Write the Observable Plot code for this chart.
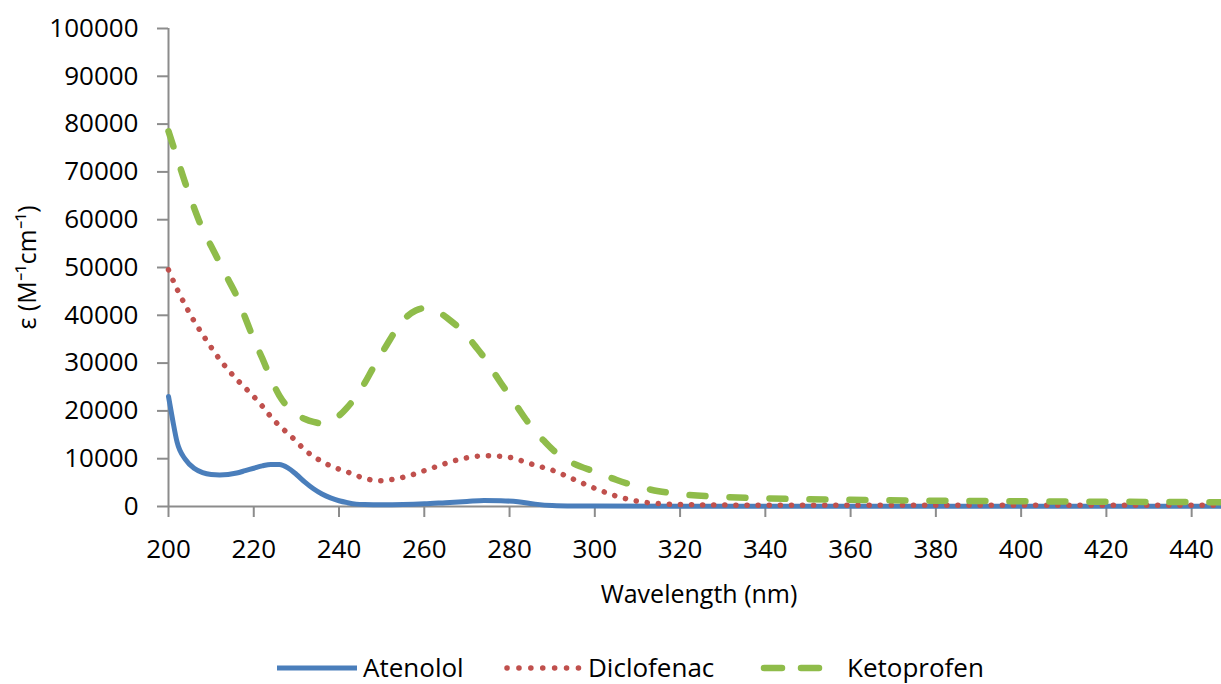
<!DOCTYPE html>
<html>
<head>
<meta charset="utf-8">
<script src="https://cdn.jsdelivr.net/npm/d3@7"></script>
<script src="https://cdn.jsdelivr.net/npm/@observablehq/plot@0.6"></script>
<style>
  html, body { margin: 0; padding: 0; background: #fff; }
  body { font-family: "Open Sans", sans-serif; width: 1221px; height: 684px; overflow: hidden; position: relative; }
  #chart svg { display: block; }
  #legend { position: absolute; left: 0; top: 630px; width: 1221px; height: 54px; }
  .item { position: absolute; top: 0; height: 54px; }
  .lbl { position: absolute; top: 22px; font-size: 26px; line-height: 30px; color: #000; white-space: nowrap; }
</style>
</head>
<body>
<div id="chart"></div>
<div id="legend"></div>
<script>
// ---- data ----
const seriesNames = ["Atenolol", "Diclofenac", "Ketoprofen"];
const seriesColors = ["#4a7ebb", "#c0504d", "#8fbc4a"];

const atenololNm  = [200,201,202,204,206,208,210,212,214,216,218,220,222,224,226,228,230,232,234,236,238,240,242,244,246,250,255,260,265,270,274,278,282,286,290,295,300,320,350,400,447];
const atenololEps = [23000,18000,13500,9800,8000,7100,6700,6600,6700,7000,7500,8000,8500,8800,8800,8100,6700,5100,3700,2600,1800,1200,800,500,400,350,400,550,800,1050,1250,1200,1000,500,200,100,80,60,60,60,60];

const diclofenacNm  = [200,202,204,206,208,210,212,214,216,218,220,222,224,226,228,230,232,234,236,238,240,242,244,246,248,250,252,254,257,260,263,266,269,272,275,278,281,284,287,290,295,300,305,310,315,320,330,350,400,447];
const diclofenacEps = [49500,45500,42000,38800,36000,33300,30800,28600,26600,24800,23000,21000,18800,16900,15300,13600,11800,10500,9400,8500,7800,7200,6500,5900,5500,5400,5600,5900,6600,7500,8400,9300,10000,10500,10600,10500,10100,9200,8400,7600,5700,3800,2200,1100,600,400,300,250,250,250];

const ketoprofenNm  = [200,202,204,206,208,210,212,214,216,218,220,222,224,226,228,230,232,234,236,238,240,242,244,246,248,250,252,254,256,258,260,262,264,266,268,270,272,274,276,278,280,282,284,286,288,290,292,295,300,305,310,315,320,330,340,360,380,400,420,447];
const ketoprofenEps = [78500,73000,67500,62500,58000,54500,51000,47500,44000,39500,35000,31000,26800,23200,20800,19300,18300,17700,17400,17900,19000,20800,23000,25800,29000,32000,35000,37800,39800,41000,41500,41200,40300,39000,37500,35700,33500,31200,28500,25800,23200,20600,18000,15700,13800,12000,10500,9000,7300,5600,4200,3200,2600,2000,1700,1400,1200,1100,1000,900];

const xTicks = [200,220,240,260,280,300,320,340,360,380,400,420,440];
const yTicks = [0,10000,20000,30000,40000,50000,60000,70000,80000,90000,100000];
const xTitle = "Wavelength (nm)";
const yTitle = "ε (M\u207B\u00B9cm\u207B\u00B9)";

// ---- build tables ----
const toRows = (name, nm, eps) => nm.map((x, i) => ({series: name, nm: x, eps: eps[i]}));
const atenolol = toRows(seriesNames[0], atenololNm, atenololEps);
const diclofenac = toRows(seriesNames[1], diclofenacNm, diclofenacEps);
const ketoprofen = toRows(seriesNames[2], ketoprofenNm, ketoprofenEps);

const axisGray = "#8c8c8c";
const font = "Open Sans";

const chart = Plot.plot({
  width: 1221,
  height: 630,
  marginLeft: 168,
  marginRight: 0,
  marginTop: 28,
  marginBottom: 124,
  style: {fontFamily: font, background: "#fff", overflow: "visible"},
  x: {domain: [200, 447], label: null},
  y: {domain: [0, 100000], label: null},
  marks: [
    Plot.axisY({ticks: yTicks, tickSize: 11, tickPadding: 19, stroke: axisGray, strokeWidth: 2, fill: "#000",
                fontSize: 26, tickFormat: d3.format("d"), label: null}),
    Plot.axisX({ticks: xTicks, tickSize: 11, tickPadding: 22, stroke: axisGray, strokeWidth: 2, fill: "#000",
                fontSize: 26, tickFormat: d3.format("d"), label: null}),
    Plot.ruleX([200], {stroke: axisGray, strokeWidth: 2}),
    Plot.ruleY([0], {stroke: axisGray, strokeWidth: 2}),
    Plot.line(atenolol, {x: "nm", y: "eps", stroke: seriesColors[0], strokeWidth: 5, curve: "monotone-x"}),
    Plot.line(diclofenac, {x: "nm", y: "eps", stroke: seriesColors[1], strokeWidth: 5.5, curve: "monotone-x",
                           strokeDasharray: "0.1 11", strokeLinecap: "round"}),
    Plot.line(ketoprofen, {x: "nm", y: "eps", stroke: seriesColors[2], strokeWidth: 6.5, curve: "monotone-x",
                           strokeDasharray: "16 24", strokeLinecap: "round"}),
    Plot.text([yTitle], {text: d => d, frameAnchor: "left", textAnchor: "middle", dx: -141, rotate: -90, fontSize: 25, fill: "#000"}),
    Plot.text([xTitle], {text: d => d, frameAnchor: "bottom", textAnchor: "middle", dy: 96, dx: 4, fontSize: 25, fill: "#000"})
  ]
});
document.getElementById("chart").appendChild(chart);

// ---- legend (HTML below the SVG) ----
const legend = document.getElementById("legend");
const swatchX = [277, 505, 762];
const labelX = [363, 588, 847];
const swatchW = [80, 74, 60];
const ns = "http://www.w3.org/2000/svg";
seriesNames.forEach((name, i) => {
  const svg = document.createElementNS(ns, "svg");
  svg.setAttribute("width", swatchW[i] + 6);
  svg.setAttribute("height", 54);
  svg.setAttribute("class", "item");
  svg.style.left = (swatchX[i] - 3) + "px";
  const line = document.createElementNS(ns, "line");
  line.setAttribute("x1", i === 0 ? 3 : 5);
  line.setAttribute("x2", swatchW[i] + 3);
  line.setAttribute("y1", 38);
  line.setAttribute("y2", 38);
  line.setAttribute("stroke", seriesColors[i]);
  line.setAttribute("stroke-width", i === 0 ? 5 : i === 1 ? 5.5 : 6.5);
  if (i === 1) { line.setAttribute("stroke-dasharray", "0.1 11.8"); line.setAttribute("stroke-linecap", "round"); }
  if (i === 2) { line.setAttribute("stroke-dasharray", "18 19"); line.setAttribute("stroke-linecap", "round"); }
  svg.appendChild(line);
  legend.appendChild(svg);
  const lab = document.createElement("div");
  lab.className = "lbl";
  lab.style.left = labelX[i] + "px";
  lab.textContent = name;
  legend.appendChild(lab);
});
</script>
</body>
</html>
